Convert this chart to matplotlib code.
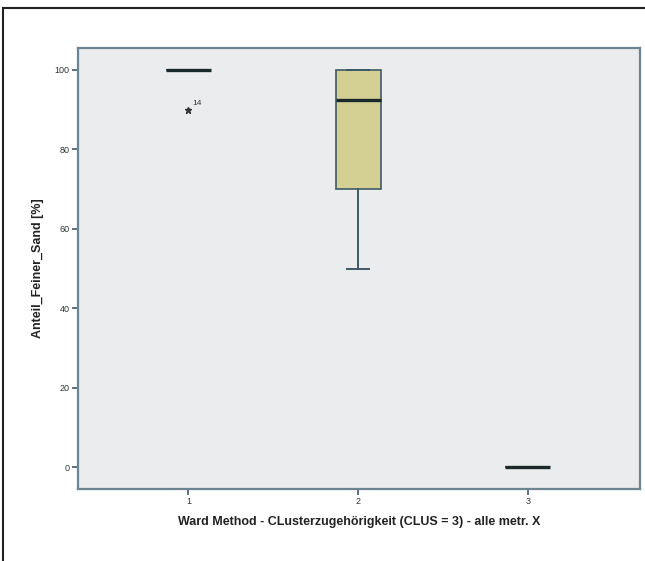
import matplotlib.pyplot as plt
from matplotlib.patches import Rectangle

# Kennwerte der Boxplots je Cluster
clusters = [1, 2, 3]
q1 = [100, 70, 0]
median = [100, 92.5, 0]
q3 = [100, 100, 0]
whislo = [100, 50, 0]
whishi = [100, 100, 0]
ausreisser = [[90], [], []]
ausreisser_fall = ["14"]

plt.rcParams['font.family'] = ['Liberation Sans', 'DejaVu Sans']

fig = plt.figure(figsize=(6.45, 5.61), dpi=100)
ax = fig.add_axes([78/645, 1-489/561, (640-78)/645, (489-48)/561])
ax.set_facecolor('#ebecee')

stats = []
for i in range(len(clusters)):
    stats.append(dict(med=median[i], q1=q1[i], q3=q3[i], whislo=whislo[i],
                      whishi=whishi[i], fliers=ausreisser[i]))

linecol = '#3e5a66'
ax.bxp(stats, positions=clusters, widths=0.265, patch_artist=True,
       boxprops=dict(facecolor='#d4cf93', edgecolor=linecol, linewidth=1.2),
       medianprops=dict(color='#1a2a2a', linewidth=2.4),
       whiskerprops=dict(color=linecol, linewidth=1.4),
       capprops=dict(color=linecol, linewidth=1.4),
       flierprops=dict(marker='*', markersize=5, markerfacecolor='#333333',
                       markeredgecolor='#333333'))
for i, fl in enumerate(ausreisser):
    for j, v in enumerate(fl):
        ax.annotate(ausreisser_fall[j], (clusters[i], v), xytext=(3, 3),
                    textcoords='offset points', fontsize=6, color='#333333')

ax.set_xlim(0.35, 3.66)
ax.set_ylim(-5.5, 105.5)
ax.set_yticks([0, 20, 40, 60, 80, 100])
ax.set_xticks(clusters)
ax.tick_params(axis='both', direction='out', length=4, width=1.2, color=linecol,
               labelsize=6.5, labelcolor='#333333', pad=2)
for s in ax.spines.values():
    s.set_color('#6b8592')
    s.set_linewidth(1.6)

ax.set_xlabel('Ward Method - CLusterzugehörigkeit (CLUS = 3) - alle metr. X',
              fontsize=9, fontweight='bold', color='#222222', labelpad=7)
ax.set_ylabel('Anteil_Feiner_Sand [%]', fontsize=9, fontweight='bold',
              color='#222222', labelpad=8)

# Rahmen um die Grafik
fig.patches.append(Rectangle((3/645, -0.1), 1.2, 1.1 - 8/561,
                             transform=fig.transFigure, fill=False,
                             edgecolor='#222222', linewidth=1.5))

fig.savefig('out.png', dpi=100)
